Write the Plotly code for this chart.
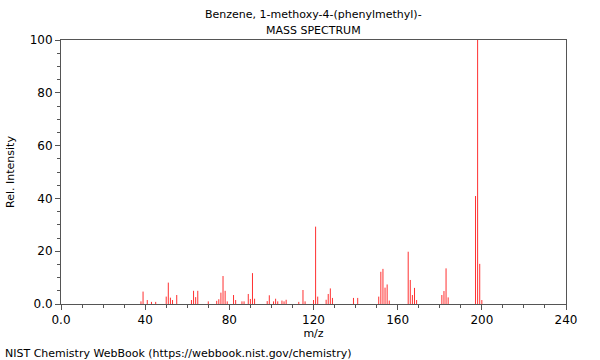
import plotly.graph_objects as go

mz = [38, 39, 41, 43, 45, 50, 51, 52, 53, 55, 62, 63, 64, 65, 70, 74, 75, 76, 77, 78, 79,
      82, 83, 86, 87, 89, 90, 91, 92, 98, 99, 101, 102, 103, 105, 106, 107, 113, 115, 116,
      120, 121, 122, 126, 127, 128, 129, 139, 141, 151, 152, 153, 154, 155, 156,
      165, 166, 167, 168, 169, 181, 182, 183, 184, 197, 198, 199, 200]
intensity = [1.0, 4.7, 1.5, 0.8, 0.8, 2.8, 8.1, 2.4, 1.5, 3.4, 1.5, 5.0, 2.6, 5.0, 1.0, 1.2, 1.8, 4.3, 10.6, 5.0, 1.0,
             3.4, 1.5, 1.0, 1.0, 3.8, 1.9, 11.7, 2.0, 1.1, 3.3, 1.0, 2.0, 1.0, 1.3, 1.0, 1.6, 0.8, 5.3, 1.0,
             1.5, 29.3, 2.8, 1.6, 3.8, 5.9, 2.3, 2.3, 2.3, 2.8, 12.2, 13.3, 6.2, 7.4, 1.3,
             19.8, 9.1, 3.4, 6.1, 1.5, 3.4, 4.9, 13.5, 2.5, 40.9, 100.0, 15.2, 1.5]

title_lines = ["Benzene, 1-methoxy-4-(phenylmethyl)-", "MASS SPECTRUM"]
footer = "NIST Chemistry WebBook (https://webbook.nist.gov/chemistry)"
x_ticks = [0, 40, 80, 120, 160, 200, 240]
x_labels = ["0.0", "40", "80", "120", "160", "200", "240"]
y_ticks = [0, 20, 40, 60, 80, 100]
y_labels = ["0.0", "20", "40", "60", "80", "100"]

xs, ys = [], []
for m, v in zip(mz, intensity):
    xs += [m, m, None]
    ys += [0, v, None]

fig = go.Figure(go.Scatter(x=xs, y=ys, mode="lines",
                           line=dict(color="#ff3030", width=1), hoverinfo="skip"))

font = "DejaVu Sans, sans-serif"
fig.update_layout(
    width=600, height=360,
    margin=dict(l=61, r=34, t=40, b=56),
    paper_bgcolor="white", plot_bgcolor="white",
    showlegend=False,
    font=dict(family=font, size=11, color="black"),
)
axis_common = dict(showgrid=False, zeroline=False, showline=True, linecolor="#555555",
                   linewidth=1, mirror=True, ticks="outside", ticklen=5, tickcolor="#555555",
                   automargin=False,
                   tickfont=dict(family=font, size=12, color="black"))
fig.update_xaxes(range=[0, 240], tickvals=x_ticks, ticktext=x_labels,
                 minor=dict(dtick=10, ticks="outside", ticklen=3, tickcolor="#555555"),
                 title=dict(text="m/z", font=dict(family=font, size=11), standoff=1),
                 **axis_common)
fig.update_yaxes(range=[0, 100], tickvals=y_ticks, ticktext=y_labels,
                 minor=dict(dtick=5, ticks="outside", ticklen=3, tickcolor="#555555"),
                 title=dict(text="Rel. Intensity", font=dict(family=font, size=11), standoff=12),
                 **axis_common)

fig.add_annotation(text=title_lines[0], xref="paper", yref="paper", x=0.5, y=1,
                   yshift=34, showarrow=False, font=dict(family=font, size=11))
fig.add_annotation(text=title_lines[1], xref="paper", yref="paper", x=0.5, y=1,
                   yshift=18, showarrow=False, font=dict(family=font, size=11))
fig.add_annotation(text=footer, xref="paper", yref="paper", x=-58/505, y=0,
                   xanchor="left", yanchor="middle", yshift=-49, showarrow=False,
                   font=dict(family=font, size=11))

fig.write_html("out.html", config={"displayModeBar": False},
               post_script="document.body.style.margin='0';")
